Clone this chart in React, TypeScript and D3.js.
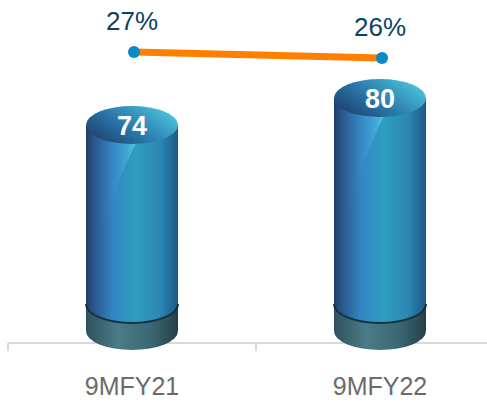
import React from "react";
import * as d3 from "d3";

const categories = ["9MFY21", "9MFY22"];
const barValues = [74, 80];
const pctValues = [27, 26];
const pctLabels = ["27%", "26%"];

const W = 487;
const H = 402;

export default function App() {
  const x = d3.scaleBand<string>().domain(categories).range([8, 504]).padding(0);
  const yBar = d3.scaleLinear().domain([34, 80]).range([305, 98]);
  const yPct = d3.scaleLinear().domain([20, 30]).range([94, 34]);

  const rx = 46;
  const ry = 19;
  const baseTop = 304;
  const baseBottom = 331;
  const axisY = 343;

  const cxOf = (c: string) => (x(c) as number) + x.bandwidth() / 2;

  const lineGen = d3
    .line<number>()
    .x((_, i) => cxOf(categories[i]) + 2)
    .y((d) => yPct(d));

  return (
    <svg width={W} height={H} style={{ position: "absolute", left: 0, top: 0 }}>
      <defs>
        <linearGradient id="body" x1="0" x2="1" y1="0" y2="0">
          <stop offset="0%" stopColor="#213d66" />
          <stop offset="10%" stopColor="#2b5a92" />
          <stop offset="30%" stopColor="#3486c4" />
          <stop offset="55%" stopColor="#2f9dc0" />
          <stop offset="80%" stopColor="#2b88b3" />
          <stop offset="100%" stopColor="#1d5a86" />
        </linearGradient>
        <linearGradient id="sheen" x1="0" x2="1" y1="0" y2="0">
          <stop offset="0%" stopColor="#1e3c68" stopOpacity="0" />
          <stop offset="60%" stopColor="#3c9fd6" stopOpacity="0.3" />
          <stop offset="100%" stopColor="#5ccbe6" stopOpacity="0.8" />
        </linearGradient>
        <linearGradient id="top" x1="0" x2="1" y1="0.8" y2="0.2">
          <stop offset="0%" stopColor="#1e3f6c" />
          <stop offset="45%" stopColor="#2a78ac" />
          <stop offset="100%" stopColor="#4cc8de" />
        </linearGradient>
        <linearGradient id="base" x1="0" x2="1" y1="0" y2="0">
          <stop offset="0%" stopColor="#2e525d" />
          <stop offset="35%" stopColor="#4a7b88" />
          <stop offset="70%" stopColor="#3b6874" />
          <stop offset="100%" stopColor="#253f48" />
        </linearGradient>
      </defs>

      {/* axis */}
      <line x1={8} x2={W} y1={axisY} y2={axisY} stroke="#d9d9d9" strokeWidth={2} />
      {categories.map((c) => (
        <line key={"t" + c} x1={x(c) as number} x2={x(c) as number} y1={axisY} y2={axisY + 8} stroke="#d9d9d9" strokeWidth={2} />
      ))}

      {categories.map((c, i) => {
        const cx = cxOf(c);
        const l = cx - rx;
        const r = cx + rx;
        const yt = yBar(barValues[i]);
        return (
          <g key={c}>
            <path
              d={`M${l},${baseTop} L${l},${baseBottom} A${rx},${ry} 0 0 0 ${r},${baseBottom} L${r},${baseTop} Z`}
              fill="url(#base)"
            />
            <path
              d={`M${l},${yt} L${l},${baseTop} A${rx},${ry} 0 0 0 ${r},${baseTop} L${r},${yt} Z`}
              fill="url(#body)"
            />
            <path
              d={`M${l},${baseTop} A${rx},${ry} 0 0 0 ${r},${baseTop}`}
              fill="none"
              stroke="#16303f"
              strokeWidth={2}
            />
            <path
              d={`M${cx + 4},${yt + ry - 1} C${cx - 22},${yt + 70} ${l + 4},${yt + 140} ${l + 1},${baseTop - 10} L${l},${yt} Z`}
              fill="url(#sheen)"
            />
            <ellipse cx={cx} cy={yt} rx={rx} ry={ry} fill="url(#top)" />
            <text
              x={cx}
              y={yt}
              dy="0.36em"
              textAnchor="middle"
              fill="#ffffff"
              fontFamily="Liberation Sans, Arial, sans-serif"
              fontWeight="bold"
              fontSize={27}
            >
              {barValues[i]}
            </text>
            <text
              x={cx}
              y={395}
              textAnchor="middle"
              fill="#6b6b6b"
              fontFamily="Liberation Sans, Arial, sans-serif"
              fontSize={25}
            >
              {c}
            </text>
          </g>
        );
      })}

      <path d={lineGen(pctValues) || ""} fill="none" stroke="#ff7f00" strokeWidth={7} />
      {pctValues.map((p, i) => {
        const cx = cxOf(categories[i]) + 2;
        return (
          <g key={"p" + i}>
            <circle cx={cx} cy={yPct(p)} r={6} fill="#0a8ac6" />
            <text
              x={cx - 2}
              y={yPct(p) - 22}
              textAnchor="middle"
              fill="#0b4460"
              fontFamily="Liberation Sans, Arial, sans-serif"
              fontSize={26}
            >
              {pctLabels[i]}
            </text>
          </g>
        );
      })}
    </svg>
  );
}
